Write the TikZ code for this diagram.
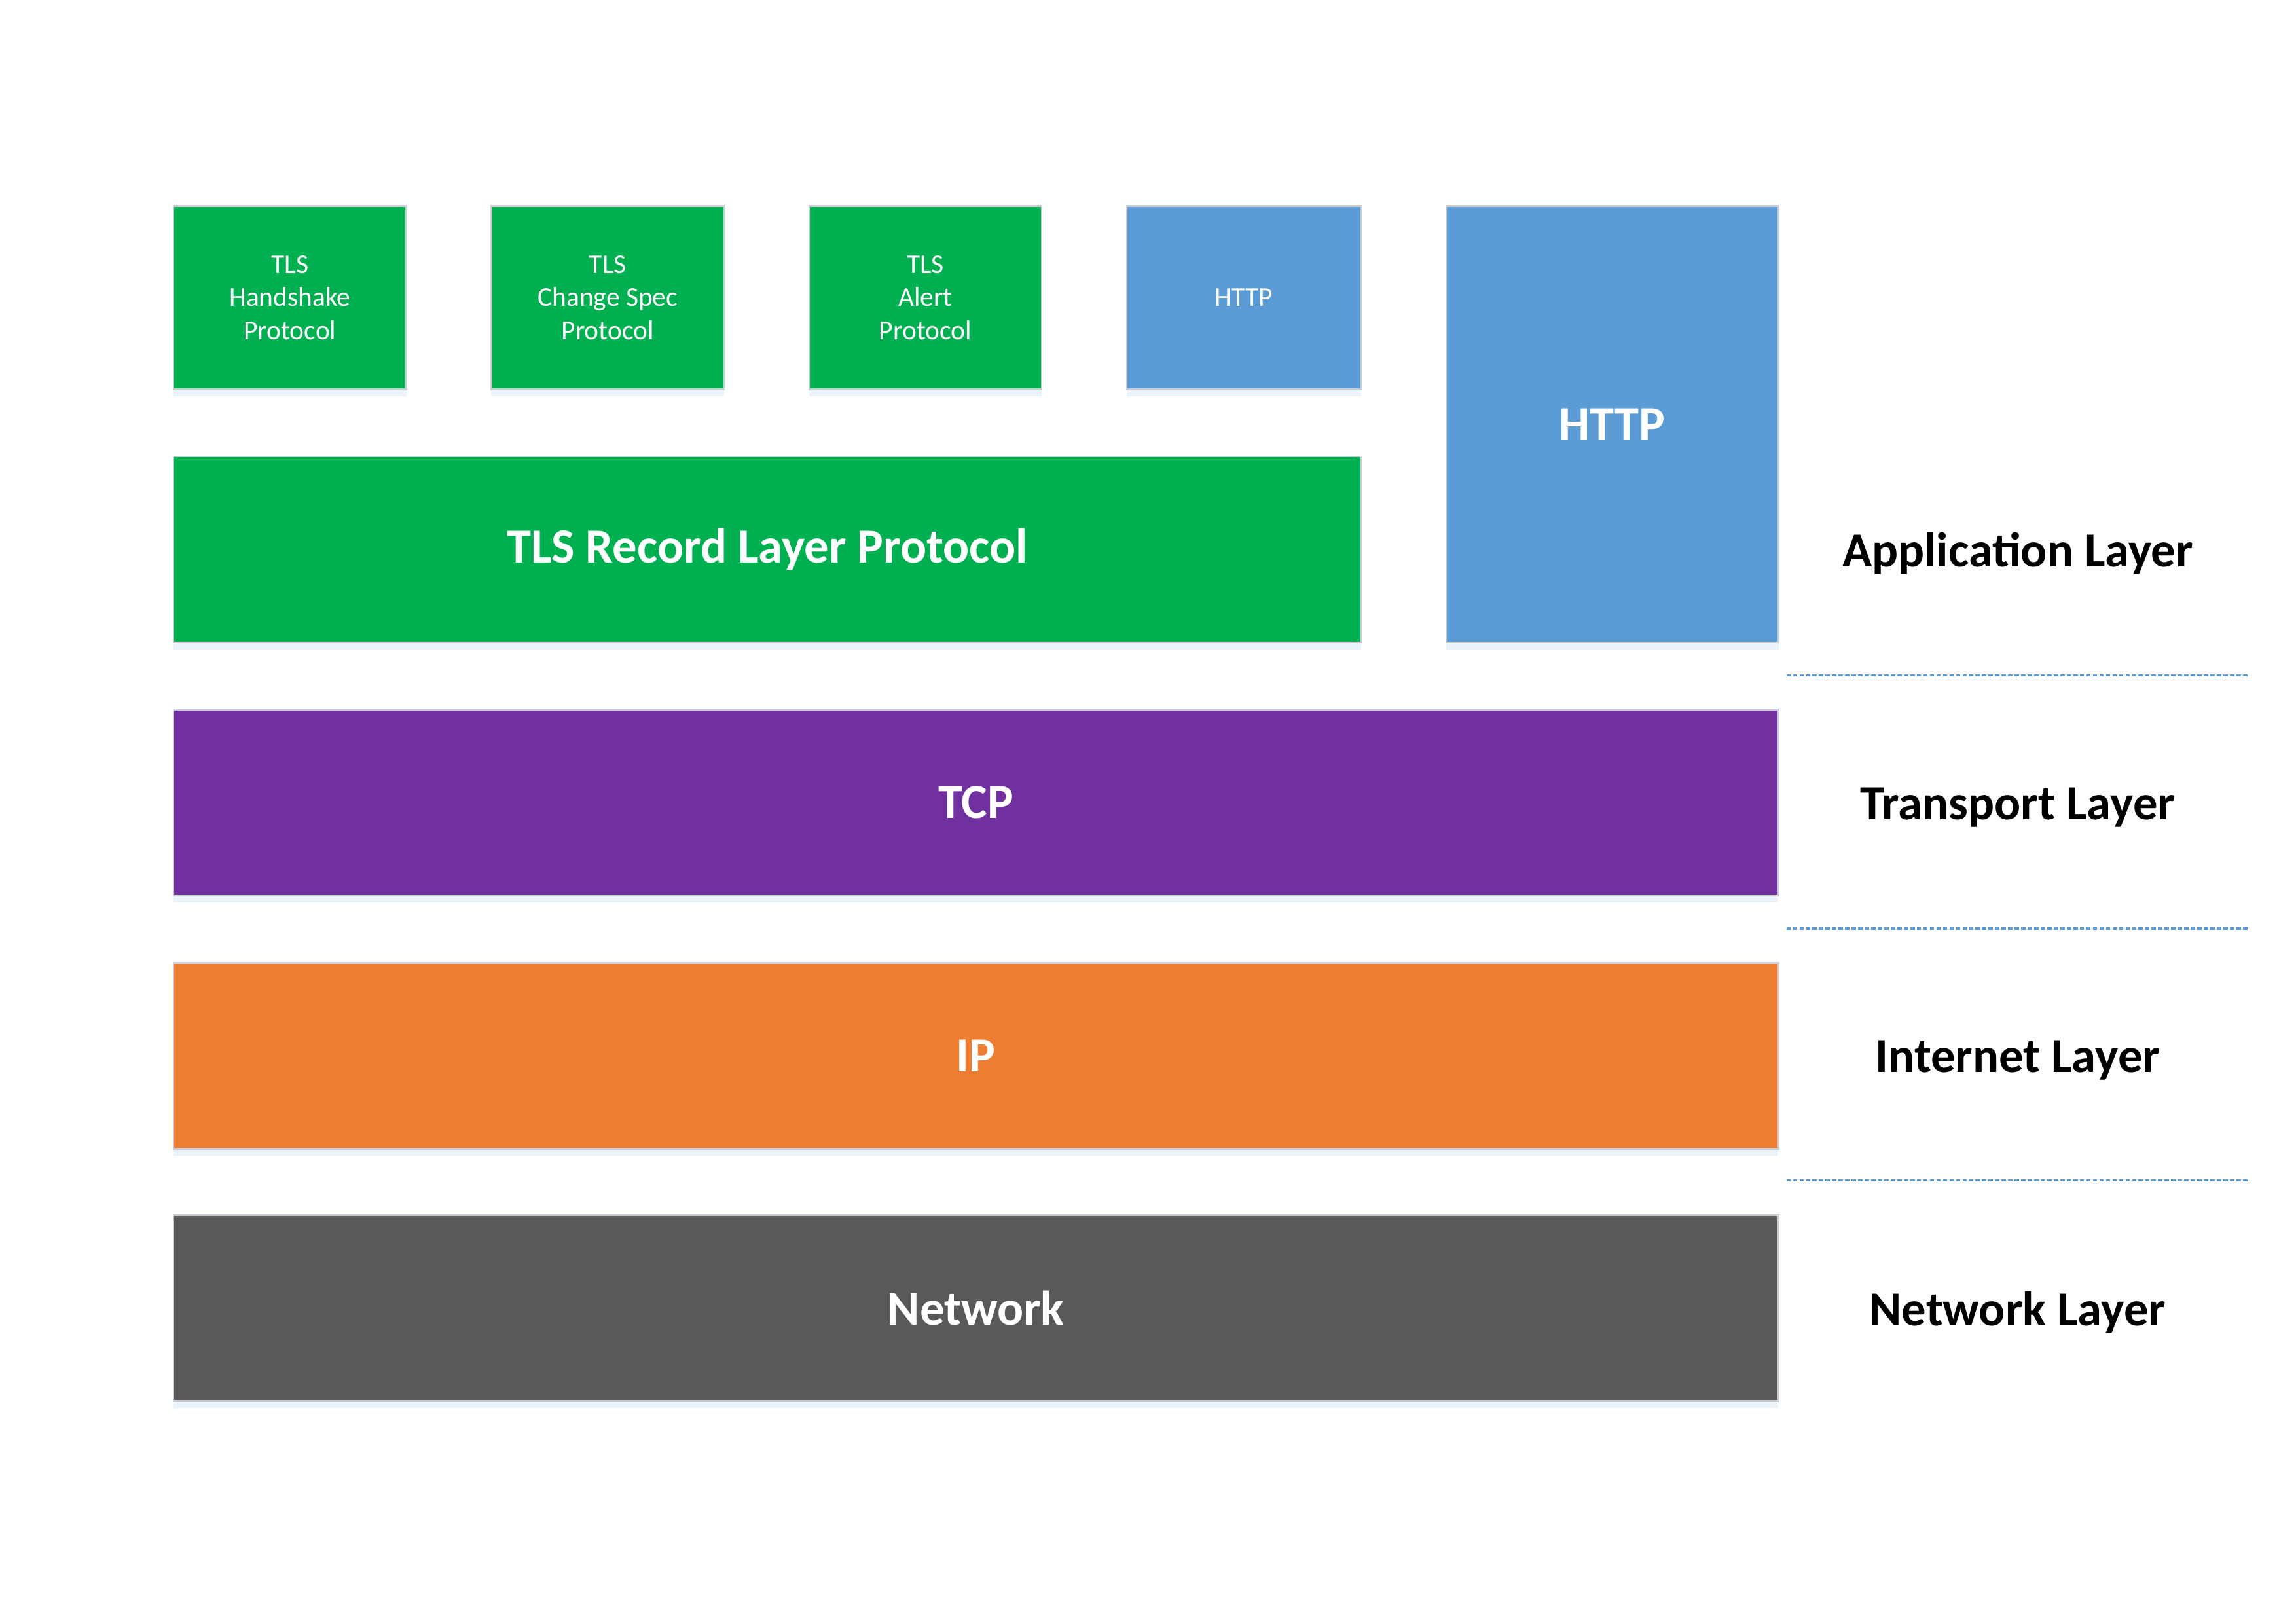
\documentclass[tikz,border=0pt]{standalone}
\usepackage{fontspec}
\setmainfont{Carlito}
\usetikzlibrary{shadows}

\definecolor{tlsgreen}{HTML}{00B050}
\definecolor{httpblue}{HTML}{5B9BD5}
\definecolor{tcppurple}{HTML}{7030A0}
\definecolor{iporange}{HTML}{ED7D31}
\definecolor{netgray}{HTML}{595959}
\definecolor{boxedge}{HTML}{C9CCD2}

\tikzset{
  proto/.style={draw=boxedge, line width=0.6pt, anchor=north west, text=white,
    inner sep=0pt, align=center,
    drop shadow={shadow xshift=0pt, shadow yshift=-0.9mm, opacity=0.12, fill=httpblue}},
  smallproto/.style={proto, minimum width=3.01cm, minimum height=2.37cm,
    font=\fontsize{10}{12.2}\selectfont},
  layerbox/.style={proto, minimum height=2.405cm, font=\fontsize{18}{21}\selectfont\bfseries},
  layername/.style={font=\fontsize{18}{21}\selectfont\bfseries},
  sepline/.style={draw=httpblue, line width=0.75pt, dash pattern=on 1.6pt off 0.8pt}
}

\begin{document}
\begin{tikzpicture}[scale=1]
    \useasboundingbox (0,0) rectangle (29.7,-21.0);

    \node[smallproto, fill=tlsgreen] (hs) at (2.235,-2.652) {TLS\\Handshake\\Protocol};
    \node[smallproto, fill=tlsgreen] (ccs) at (6.345,-2.652) {TLS\\Change Spec\\Protocol};
    \node[smallproto, fill=tlsgreen] (alert) at (10.455,-2.652) {TLS\\Alert\\Protocol};
    \node[smallproto, fill=httpblue, minimum width=3.03cm] (httpa) at (14.566,-2.652) {HTTP};
    \node[layerbox, fill=httpblue, minimum width=4.30cm, minimum height=5.644cm] (httpb) at (18.695,-2.652) {};
    \node[layername, text=white] (httpt) at ([yshift=-2.84cm]httpb.north) {HTTP};

    \node[layerbox, fill=tlsgreen, minimum width=15.361cm] (rec) at (2.235,-5.891) {TLS Record Layer Protocol};
    \node[layerbox, fill=tcppurple, minimum width=20.759cm] (tcp) at (2.235,-9.167) {TCP};
    \node[layerbox, fill=iporange, minimum width=20.759cm] (ip) at (2.235,-12.444) {IP};
    \node[layerbox, fill=netgray, minimum width=20.759cm] (net) at (2.235,-15.702) {Network};

    \draw[sepline] (23.108,-8.732) -- (29.075,-8.732);
    \draw[sepline] (23.108,-12.008) -- (29.075,-12.008);
    \draw[sepline] (23.108,-15.267) -- (29.075,-15.267);

    \node[layername] (app) at (26.10,-7.16) {Application Layer};
    \node[layername] (trans) at (26.10,-10.44) {Transport Layer};
    \node[layername] (inet) at (26.10,-13.71) {Internet Layer};
    \node[layername] (netl) at (26.10,-16.97) {Network Layer};
\end{tikzpicture}
\end{document}
